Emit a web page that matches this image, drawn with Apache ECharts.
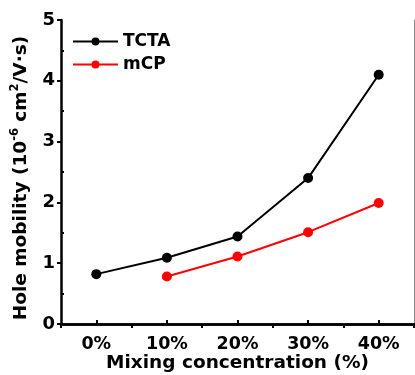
<!DOCTYPE html>
<html><head><meta charset="utf-8">
<script src="https://cdn.jsdelivr.net/npm/echarts@6/dist/echarts.min.js"></script>
<style>html,body{margin:0;padding:0;background:#fff}#c{width:415px;height:375px}</style>
</head><body><div id="c"></div>
<script>
var categories = ['0%', '10%', '20%', '30%', '40%'];
var tcta = [0.82, 1.09, 1.44, 2.40, 4.10];
var mcp = [null, 0.78, 1.11, 1.51, 1.99];
var yTicks = [0, 1, 2, 3, 4, 5];

var F = '"DejaVu Sans", sans-serif';
var chart = echarts.init(document.getElementById('c'), null, {renderer: 'canvas'});
chart.setOption({
  backgroundColor: '#fff',
  animation: false,
  grid: {left: 61, right: 1, top: 20, bottom: 51, containLabel: false, outerBoundsMode: 'none'},
  legend: {
    orient: 'vertical', left: 67, top: 28, itemWidth: 45, itemHeight: 10, itemGap: 6,
    textStyle: {fontFamily: F, fontWeight: 'bold', fontSize: 17, color: '#000'},
    data: ['TCTA', 'mCP']
  },
  xAxis: [
    {type: 'category', data: categories, position: 'bottom', boundaryGap: true,
     axisLine: {lineStyle: {color: '#000', width: 2.5}},
     axisTick: {show: true, alignWithLabel: true, inside: true, length: 4, lineStyle: {color: '#000', width: 2}},
     axisLabel: {fontFamily: F, fontWeight: 'bold', fontSize: 17.5, color: '#000', margin: 11},
     name: 'Mixing concentration (%)', nameLocation: 'middle', nameGap: 29.5, nameMoveOverlap: false,
     nameTextStyle: {fontFamily: F, fontWeight: 'bold', fontSize: 18.5, color: '#000'},
     splitLine: {show: false}},
    {type: 'category', data: categories, position: 'bottom', boundaryGap: true,
     axisLine: {show: false}, axisLabel: {show: false},
     axisTick: {show: true, inside: false, length: 4, lineStyle: {color: '#000', width: 2}},
     splitLine: {show: false}},
    {type: 'category', data: categories, position: 'top', boundaryGap: true,
     axisLine: {lineStyle: {color: '#000', width: 2.5}}, axisTick: {show: false}, axisLabel: {show: false},
     splitLine: {show: false}}
  ],
  yAxis: [
    {type: 'value', min: yTicks[0], max: yTicks[yTicks.length-1], interval: 1, position: 'left',
     axisLine: {show: true, lineStyle: {color: '#000', width: 2.5}},
     axisTick: {show: true, inside: false, length: 4, lineStyle: {color: '#000', width: 2}},
     axisLabel: {fontFamily: F, fontWeight: 'bold', fontSize: 18, color: '#000', margin: 6},
     splitLine: {show: false},
     name: '{b|Hole mobility (10}{s|-6}{b| cm}{s|2}{b|/V·s)}', nameLocation: 'middle', nameGap: 30, nameRotate: 90,
     nameMoveOverlap: false,
     nameTextStyle: {color: '#000', padding: [0, 12, 0, 0], rich: {
       b: {fontFamily: F, fontWeight: 'bold', fontSize: 18.5, color: '#000', lineHeight: 22, verticalAlign: 'bottom'},
       s: {fontFamily: F, fontWeight: 'bold', fontSize: 11.5, color: '#000', lineHeight: 22, verticalAlign: 'top'}
     }}},
    {type: 'value', min: 0, max: 5, interval: 1, position: 'left',
     axisLine: {show: false}, axisLabel: {show: false}, splitLine: {show: false},
     axisTick: {show: false, inside: true},
     minorTick: {show: true, splitNumber: 2, length: 3, lineStyle: {color: '#000', width: 2}}},
    {type: 'value', min: 0, max: 5, interval: 1, position: 'right',
     axisLine: {show: true, lineStyle: {color: '#888', width: 1}},
     axisTick: {show: false}, axisLabel: {show: false}, splitLine: {show: false}}
  ],
  series: [
    {name: 'TCTA', type: 'line', data: tcta, xAxisIndex: 0, yAxisIndex: 0,
     symbol: 'circle', symbolSize: 10, color: '#000',
     lineStyle: {color: '#000', width: 2}, itemStyle: {color: '#000'}},
    {name: 'mCP', type: 'line', data: mcp, xAxisIndex: 0, yAxisIndex: 0,
     symbol: 'circle', symbolSize: 10, color: '#ff0000',
     lineStyle: {color: '#ff0000', width: 2}, itemStyle: {color: '#ff0000'}}
  ]
});
</script></body></html>
